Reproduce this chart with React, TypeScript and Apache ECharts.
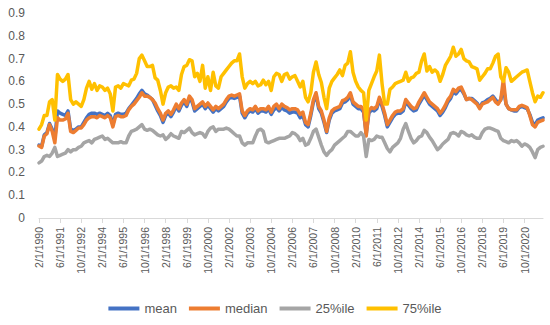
import React, { useEffect, useRef } from "react";
import * as echarts from "echarts";

// Bimonthly observations, Feb 1990 onward
const startYear = 1990;
const startMonth = 2;
const pointCount = 192;
const categories: string[] = [];
for (let i = 0; i < pointCount; i++) {
  const m0 = startMonth - 1 + 2 * i;
  const y = startYear + Math.floor(m0 / 12);
  const m = (m0 % 12) + 1;
  categories.push(`${m}/1/${y}`);
}

const meanValues = [
  0.32,0.315,0.365,0.375,0.415,0.39,0.35,0.47,
  0.46,0.455,0.45,0.47,0.39,0.385,0.39,0.40,
  0.40,0.42,0.44,0.455,0.46,0.46,0.455,0.46,
  0.455,0.45,0.46,0.45,0.41,0.455,0.46,0.455,
  0.455,0.46,0.48,0.495,0.51,0.525,0.545,0.56,
  0.545,0.54,0.53,0.52,0.495,0.47,0.45,0.42,
  0.45,0.46,0.445,0.465,0.49,0.47,0.495,0.51,
  0.49,0.525,0.51,0.47,0.48,0.49,0.50,0.48,
  0.495,0.48,0.465,0.48,0.47,0.48,0.49,0.51,
  0.525,0.53,0.525,0.53,0.535,0.46,0.44,0.46,
  0.47,0.465,0.48,0.46,0.47,0.47,0.465,0.48,
  0.455,0.475,0.485,0.47,0.485,0.475,0.47,0.46,
  0.465,0.465,0.46,0.44,0.45,0.41,0.40,0.45,
  0.51,0.54,0.48,0.46,0.42,0.375,0.43,0.46,
  0.47,0.475,0.48,0.505,0.51,0.52,0.54,0.50,
  0.49,0.48,0.48,0.465,0.37,0.46,0.475,0.47,
  0.48,0.52,0.49,0.45,0.40,0.42,0.44,0.455,
  0.46,0.46,0.47,0.51,0.495,0.48,0.47,0.475,
  0.50,0.52,0.54,0.52,0.50,0.49,0.48,0.47,
  0.45,0.465,0.485,0.51,0.525,0.555,0.545,0.56,
  0.565,0.545,0.52,0.525,0.525,0.515,0.505,0.485,
  0.505,0.51,0.52,0.525,0.535,0.52,0.505,0.52,
  0.57,0.50,0.48,0.475,0.47,0.47,0.485,0.49,
  0.485,0.48,0.455,0.42,0.41,0.43,0.435,0.44,
];

const medianValues = [
  0.316,0.31,0.36,0.37,0.41,0.38,0.33,0.44,
  0.43,0.43,0.435,0.46,0.38,0.375,0.385,0.395,
  0.395,0.41,0.43,0.44,0.445,0.445,0.44,0.45,
  0.445,0.44,0.45,0.44,0.40,0.445,0.45,0.445,
  0.445,0.45,0.475,0.49,0.50,0.515,0.53,0.55,
  0.535,0.535,0.53,0.52,0.505,0.48,0.46,0.43,
  0.46,0.47,0.455,0.475,0.50,0.48,0.505,0.52,
  0.50,0.535,0.52,0.48,0.49,0.50,0.51,0.49,
  0.505,0.49,0.475,0.49,0.48,0.49,0.50,0.52,
  0.535,0.54,0.535,0.54,0.545,0.47,0.45,0.47,
  0.48,0.475,0.49,0.47,0.48,0.48,0.475,0.49,
  0.465,0.49,0.50,0.48,0.50,0.49,0.485,0.475,
  0.48,0.48,0.475,0.455,0.465,0.42,0.41,0.46,
  0.52,0.55,0.49,0.47,0.43,0.38,0.44,0.47,
  0.48,0.485,0.49,0.515,0.52,0.53,0.55,0.51,
  0.50,0.49,0.49,0.475,0.36,0.47,0.485,0.48,
  0.49,0.53,0.50,0.46,0.41,0.43,0.45,0.465,
  0.47,0.47,0.48,0.52,0.505,0.49,0.48,0.485,
  0.51,0.53,0.55,0.53,0.51,0.50,0.49,0.48,
  0.46,0.475,0.495,0.52,0.535,0.565,0.555,0.57,
  0.575,0.55,0.52,0.525,0.52,0.51,0.50,0.48,
  0.50,0.505,0.51,0.52,0.53,0.51,0.50,0.52,
  0.61,0.50,0.48,0.475,0.475,0.475,0.49,0.495,
  0.49,0.485,0.45,0.41,0.40,0.42,0.425,0.43,
];

const p25Values = [
  0.242,0.25,0.27,0.275,0.27,0.285,0.31,0.27,
  0.275,0.28,0.285,0.30,0.29,0.30,0.30,0.31,
  0.315,0.33,0.335,0.34,0.33,0.345,0.35,0.355,
  0.36,0.345,0.35,0.34,0.33,0.33,0.33,0.335,
  0.33,0.33,0.36,0.38,0.385,0.39,0.40,0.41,
  0.39,0.385,0.39,0.385,0.375,0.365,0.36,0.365,
  0.345,0.355,0.37,0.36,0.355,0.35,0.38,0.375,
  0.385,0.395,0.375,0.365,0.37,0.375,0.37,0.355,
  0.38,0.395,0.40,0.38,0.39,0.39,0.39,0.395,
  0.39,0.38,0.37,0.36,0.36,0.33,0.32,0.33,
  0.33,0.33,0.36,0.385,0.39,0.38,0.335,0.33,
  0.335,0.34,0.345,0.35,0.35,0.35,0.355,0.36,
  0.375,0.37,0.36,0.34,0.35,0.32,0.325,0.35,
  0.38,0.39,0.355,0.32,0.29,0.275,0.29,0.30,
  0.32,0.33,0.34,0.35,0.36,0.38,0.38,0.37,
  0.36,0.36,0.375,0.36,0.27,0.345,0.34,0.345,
  0.36,0.355,0.355,0.33,0.305,0.29,0.31,0.32,
  0.33,0.35,0.39,0.415,0.38,0.35,0.33,0.34,
  0.355,0.36,0.385,0.375,0.355,0.34,0.32,0.30,
  0.31,0.325,0.335,0.345,0.37,0.375,0.37,0.36,
  0.38,0.375,0.365,0.36,0.365,0.355,0.35,0.35,
  0.375,0.39,0.395,0.395,0.39,0.385,0.38,0.35,
  0.34,0.335,0.33,0.34,0.335,0.34,0.33,0.315,
  0.325,0.32,0.31,0.29,0.265,0.30,0.31,0.315,
];

const p75Values = [
  0.39,0.41,0.45,0.45,0.51,0.52,0.43,0.63,
  0.61,0.60,0.61,0.63,0.52,0.50,0.51,0.50,
  0.49,0.52,0.57,0.60,0.565,0.59,0.56,0.58,
  0.575,0.56,0.57,0.545,0.47,0.575,0.58,0.57,
  0.59,0.585,0.58,0.605,0.61,0.635,0.70,0.715,
  0.69,0.665,0.665,0.67,0.615,0.605,0.56,0.50,
  0.55,0.575,0.58,0.57,0.575,0.56,0.63,0.665,
  0.67,0.695,0.69,0.62,0.635,0.60,0.67,0.57,
  0.62,0.56,0.64,0.58,0.57,0.62,0.635,0.65,
  0.665,0.68,0.69,0.69,0.72,0.62,0.57,0.59,
  0.60,0.59,0.60,0.58,0.585,0.605,0.585,0.60,
  0.56,0.62,0.635,0.63,0.60,0.63,0.635,0.61,
  0.62,0.625,0.60,0.575,0.60,0.53,0.51,0.55,
  0.64,0.685,0.63,0.595,0.53,0.48,0.57,0.60,
  0.615,0.63,0.65,0.625,0.67,0.68,0.73,0.64,
  0.60,0.575,0.56,0.55,0.43,0.56,0.59,0.62,
  0.645,0.715,0.59,0.50,0.50,0.565,0.575,0.59,
  0.595,0.60,0.605,0.64,0.60,0.615,0.62,0.635,
  0.64,0.69,0.72,0.645,0.665,0.64,0.65,0.64,
  0.60,0.63,0.67,0.69,0.71,0.75,0.71,0.72,
  0.74,0.70,0.69,0.685,0.665,0.66,0.655,0.605,
  0.62,0.635,0.655,0.655,0.68,0.71,0.72,0.62,
  0.60,0.66,0.64,0.60,0.61,0.62,0.63,0.64,
  0.645,0.65,0.60,0.55,0.51,0.535,0.53,0.55,
];

const seriesNames = ["mean", "median", "25%ile", "75%ile"];
const seriesColors = ["#4472C4", "#ED7D31", "#A5A5A5", "#FFC000"];
const seriesData = [meanValues, medianValues, p25Values, p75Values];

export default function App() {
  const ref = useRef<HTMLDivElement>(null);
  useEffect(() => {
    if (!ref.current) return;
    const chart = echarts.init(ref.current, undefined, { renderer: "svg" });
    const font = "'Liberation Sans', Arial, sans-serif";
    chart.setOption({
      animation: false,
      backgroundColor: "#ffffff",
      textStyle: { fontFamily: font },
      grid: { left: 39, right: 7, top: 13, bottom: 107, containLabel: false },
      legend: {
        data: seriesNames,
        top: 297,
        left: "center",
        icon: "rect",
        itemWidth: 31,
        itemHeight: 4,
        itemGap: 12,
        textStyle: { color: "#595959", fontSize: 13, fontFamily: font },
      },
      xAxis: {
        type: "category",
        data: categories,
        boundaryGap: false,
        axisLine: { show: true, lineStyle: { color: "#D9D9D9", width: 1 } },
        axisTick: {
          show: true,
          interval: 7,
          length: 5,
          lineStyle: { color: "#D9D9D9" },
        },
        axisLabel: {
          interval: 7,
          rotate: 90,
          color: "#595959",
          fontSize: 10.5,
          margin: 9,
          fontFamily: font,
        },
        splitLine: { show: false },
      },
      yAxis: {
        type: "value",
        min: 0,
        max: 0.9,
        interval: 0.1,
        axisLine: { show: false },
        axisTick: { show: false },
        splitLine: { show: false },
        axisLabel: {
          color: "#595959",
          fontSize: 12,
          margin: 14,
          fontFamily: font,
          formatter: (v: number) => String(Math.round(v * 10) / 10),
        },
      },
      series: seriesNames.map((name, k) => ({
        name,
        type: "line",
        data: seriesData[k],
        showSymbol: false,
        symbol: "none",
        color: seriesColors[k],
        lineStyle: { width: 3.5, color: seriesColors[k], join: "round", cap: "round" },
      })),
    });
    return () => chart.dispose();
  }, []);
  return (
    <div
      ref={ref}
      style={{ position: "fixed", left: 0, top: 0, width: 550, height: 325 }}
    />
  );
}
